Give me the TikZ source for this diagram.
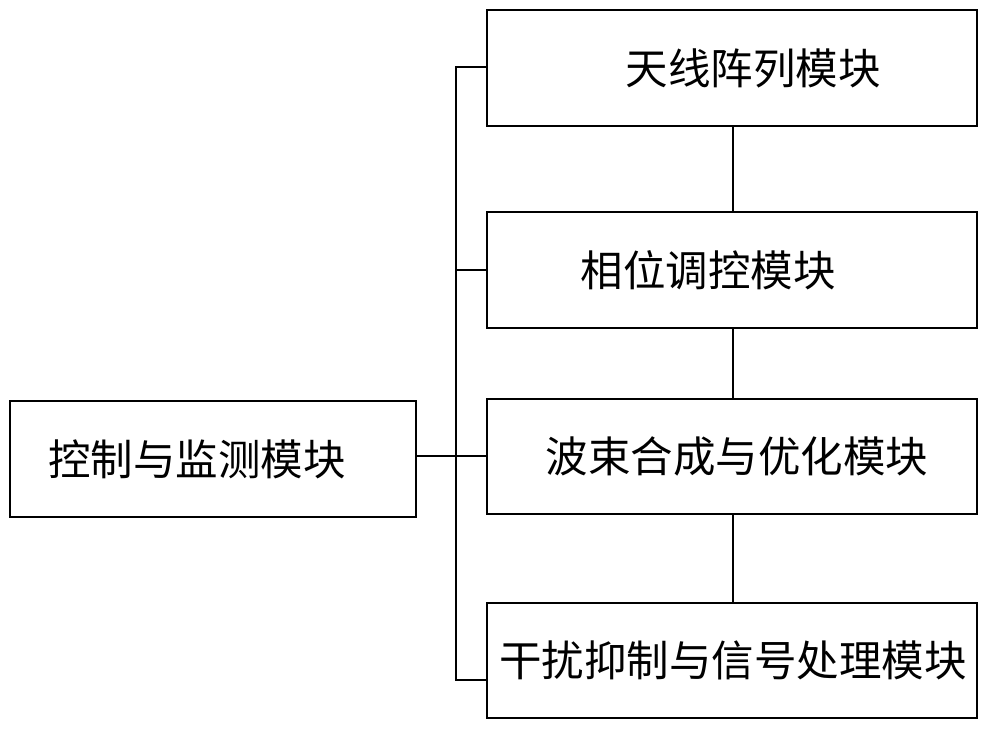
\documentclass[tikz,border=0pt]{standalone}
\usepackage{fontspec}
\newfontfamily\cjk{Noto Sans CJK SC}
\begin{document}
\begin{tikzpicture}[x=1pt,y=-1pt,line width=1.6pt,
  box/.style={draw,rectangle},
  lbl/.style={font=\cjk\fontsize{42.5}{44}\selectfont,inner sep=0}]
\useasboundingbox (0,0) rectangle (1000,729);
\draw[box] (487,10) rectangle (977,126);
\draw[box] (487,212) rectangle (977,328);
\draw[box] (487,399) rectangle (977,514);
\draw[box] (487,603) rectangle (977,718);
\draw[box] (10,401) rectangle (416,517);
\node[lbl] (t1) at (753,68) {天线阵列模块};
\node[lbl] (t2) at (708,270) {相位调控模块};
\node[lbl] (t3) at (737,456) {波束合成与优化模块};
\node[lbl] (t4) at (733,660) {干扰抑制与信号处理模块};
\node[lbl] (t0) at (197,459) {控制与监测模块};
\coordinate (top) at (456,67);
\coordinate (bot) at (456,680);
\draw (487,67) -- (top) -- (bot) -- (487,680);
\draw (456,270) -- (487,270);
\draw (416,456) -- (487,456);
\draw (733,126) -- (733,212);
\draw (733,328) -- (733,399);
\draw (733,514) -- (733,603);
\end{tikzpicture}
\end{document}
